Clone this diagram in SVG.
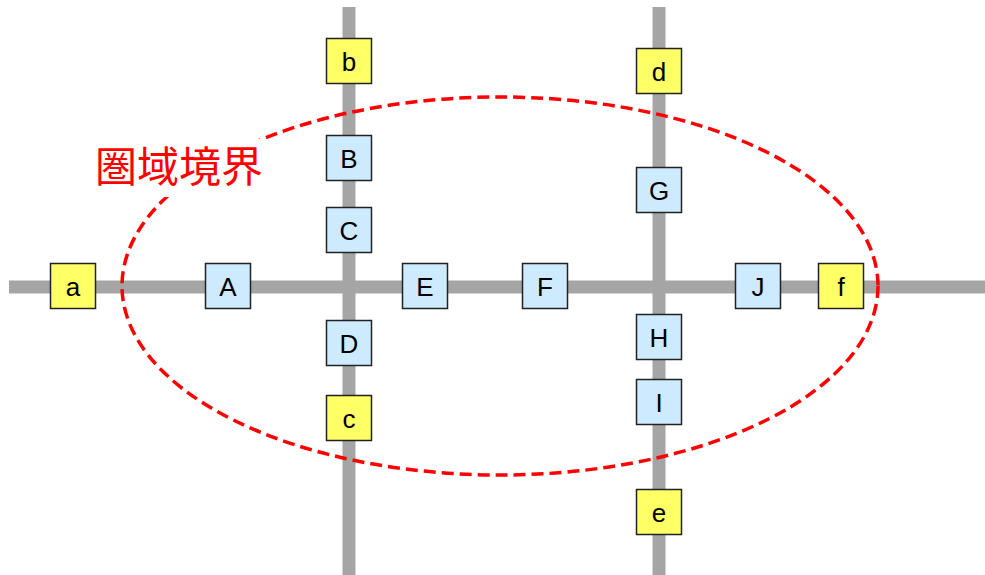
<svg xmlns="http://www.w3.org/2000/svg" width="985" height="575" viewBox="0 0 985 575">
<style>
.road{stroke:#a5a5a5;stroke-width:13;fill:none}
.n rect{stroke:#222;stroke-width:1.5;width:45px;height:45px}
.in rect{fill:#cdeaff}
.out rect{fill:#ffff66}
.n text{font-family:"Liberation Sans",Arial,sans-serif;font-size:26px;fill:#000;text-anchor:middle;dominant-baseline:central}
.bd{fill:none;stroke:#ff0000;stroke-width:3.5;stroke-dasharray:12 6}
.lbl{font-family:"Noto Sans CJK JP","Noto Sans CJK SC",sans-serif;font-size:42px;fill:#ff0000}
</style>
<rect width="985" height="575" fill="#fff"/>
<g id="connectors">
<line class="road" x1="9" y1="287" x2="985" y2="287"/>
<line class="road" x1="349" y1="7" x2="349" y2="575"/>
<line class="road" x1="659" y1="7" x2="659" y2="575"/>
</g>
<g id="boundary">
<ellipse class="bd" cx="500" cy="286" rx="378" ry="189"/>
<rect x="92" y="139" width="176" height="58" fill="#fff"/>
<text class="lbl" x="95" y="182">圏域境界</text>
</g>
<g id="a" class="n out"><rect x="50.5" y="263.5"/><text x="73" y="287">a</text></g>
<g id="A" class="n in"><rect x="205.5" y="263.5"/><text x="228" y="287">A</text></g>
<g id="b" class="n out"><rect x="326.5" y="38.5"/><text x="349" y="62">b</text></g>
<g id="B" class="n in"><rect x="326.5" y="135.5"/><text x="349" y="159">B</text></g>
<g id="C" class="n in"><rect x="326.5" y="207.5"/><text x="349" y="231">C</text></g>
<g id="D" class="n in"><rect x="326.5" y="320.5"/><text x="349" y="344">D</text></g>
<g id="c" class="n out"><rect x="326.5" y="395.5"/><text x="349" y="419">c</text></g>
<g id="E" class="n in"><rect x="402.5" y="263.5"/><text x="425" y="287">E</text></g>
<g id="F" class="n in"><rect x="522.5" y="263.5"/><text x="545" y="287">F</text></g>
<g id="d" class="n out"><rect x="636.5" y="48.5"/><text x="659" y="72">d</text></g>
<g id="G" class="n in"><rect x="636.5" y="167.5"/><text x="659" y="191">G</text></g>
<g id="H" class="n in"><rect x="636.5" y="314.5"/><text x="659" y="338">H</text></g>
<g id="I" class="n in"><rect x="636.5" y="379.5"/><text x="659" y="403">I</text></g>
<g id="e" class="n out"><rect x="636.5" y="489.5"/><text x="659" y="513">e</text></g>
<g id="J" class="n in"><rect x="735.5" y="263.5"/><text x="758" y="287">J</text></g>
<g id="f" class="n out"><rect x="818.5" y="263.5"/><text x="841" y="287">f</text></g>
</svg>
